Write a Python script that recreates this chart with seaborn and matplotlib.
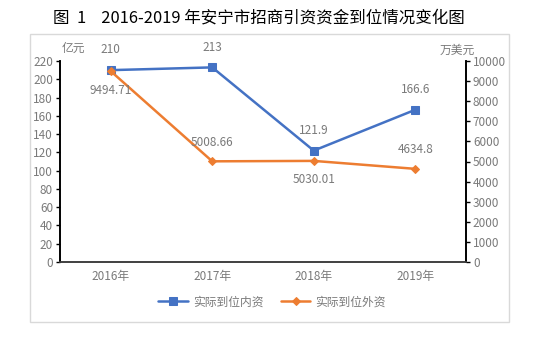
import matplotlib
matplotlib.use('Agg')
import matplotlib.pyplot as plt
import seaborn as sns
import pandas as pd
from matplotlib.patches import Rectangle

# 数据
years = ['2016年', '2017年', '2018年', '2019年']
domestic = [210, 213, 121.9, 166.6]          # 亿元
foreign = [9494.71, 5008.66, 5030.01, 4634.8]  # 万美元
domestic_labels = ['210', '213', '121.9', '166.6']
foreign_labels = ['9494.71', '5008.66', '5030.01', '4634.8']
left_ticks = list(range(0, 221, 20))
right_ticks = list(range(0, 10001, 1000))

sns.set_style('white')
plt.rcParams['font.family'] = ['Noto Sans CJK SC', 'DejaVu Sans']

blue = '#4472C4'
orange = '#ED7D31'
gray = '#7a7a7a'

df = pd.DataFrame({'year': years, 'domestic': domestic, 'foreign': foreign})

fig = plt.figure(figsize=(5.43, 3.55), dpi=100)
fig.patches.append(Rectangle((30 / 543, 1 - 322 / 355), 479 / 543, 288 / 355,
                             transform=fig.transFigure, fill=False,
                             edgecolor='#d9d9d9', linewidth=1))

ax = fig.add_axes([60 / 543, 1 - 262 / 355, 406 / 543, 201 / 355])
ax2 = ax.twinx()

sns.lineplot(data=df, x='year', y='domestic', ax=ax, color=blue, marker='s',
             markersize=6, markeredgecolor=blue, linewidth=1.8, sort=False,
             label='实际到位内资', legend=False, zorder=3)
sns.lineplot(data=df, x='year', y='foreign', ax=ax2, color=orange, marker='D',
             markersize=4, markeredgecolor=orange, linewidth=1.8, sort=False,
             label='实际到位外资', legend=False, zorder=3)

ax.set_ylim(0, 220)
ax.set_yticks(left_ticks)
ax2.set_ylim(0, 10000)
ax2.set_yticks(right_ticks)
ax.set_xlim(-0.5, 3.5)
ax.set_xticks(range(4))
ax.set_xticklabels(years)
ax.set_xticks([i - 0.5 for i in range(5)], minor=True)
ax.tick_params(axis='x', which='major', length=0, labelsize=8.5, labelcolor=gray, pad=6)
ax.tick_params(axis='x', which='minor', length=4, width=1, color='#404040', direction='out')
ax.tick_params(axis='y', length=3, width=1, color='black', labelsize=8.5, labelcolor=gray, pad=2)
ax2.tick_params(axis='y', length=3, width=1, color='black', labelsize=8.5, labelcolor=gray, pad=2)
ax.set_xlabel('')
ax.set_ylabel('')
ax2.set_ylabel('')

for a in (ax, ax2):
    a.spines['top'].set_visible(False)
    a.spines['left'].set_color('black')
    a.spines['right'].set_color('black')
    a.spines['bottom'].set_color('#404040')
    a.spines['left'].set_linewidth(1.2)
    a.spines['right'].set_linewidth(1.2)
    a.spines['bottom'].set_linewidth(1.2)
    a.grid(False)

# 数据标签
for i, (v, t) in enumerate(zip(domestic, domestic_labels)):
    ax.annotate(t, (i, v), xytext=(0, 10), textcoords='offset points',
                ha='center', va='bottom', fontsize=8.5, color=gray)
foreign_offsets = [-9, 9, -9, 9]
for i, (v, t, o) in enumerate(zip(foreign, foreign_labels, foreign_offsets)):
    ax2.annotate(t, (i, v), xytext=(0, o), textcoords='offset points',
                 ha='center', va='top' if o < 0 else 'bottom', fontsize=8.5, color=gray)

fig.text(73 / 543, 1 - 48 / 355, '亿元', ha='center', va='center', fontsize=8.5, color=gray)
fig.text(457 / 543, 1 - 50 / 355, '万美元', ha='center', va='center', fontsize=8.5, color=gray)

fig.text(259 / 543, 1 - 18 / 355, '图  1    2016-2019 年安宁市招商引资资金到位情况变化图',
         ha='center', va='center', fontsize=11.9, fontweight='medium', color='black')

h1, l1 = ax.get_legend_handles_labels()
h2, l2 = ax2.get_legend_handles_labels()
fig.legend(h1 + h2, l1 + l2, loc='center', bbox_to_anchor=(272 / 543, 1 - 302 / 355),
           ncol=2, frameon=False, fontsize=8.5, labelcolor=gray, handlelength=2.5,
           columnspacing=1.5, handletextpad=0.4)

fig.savefig('out.png', dpi=100)
